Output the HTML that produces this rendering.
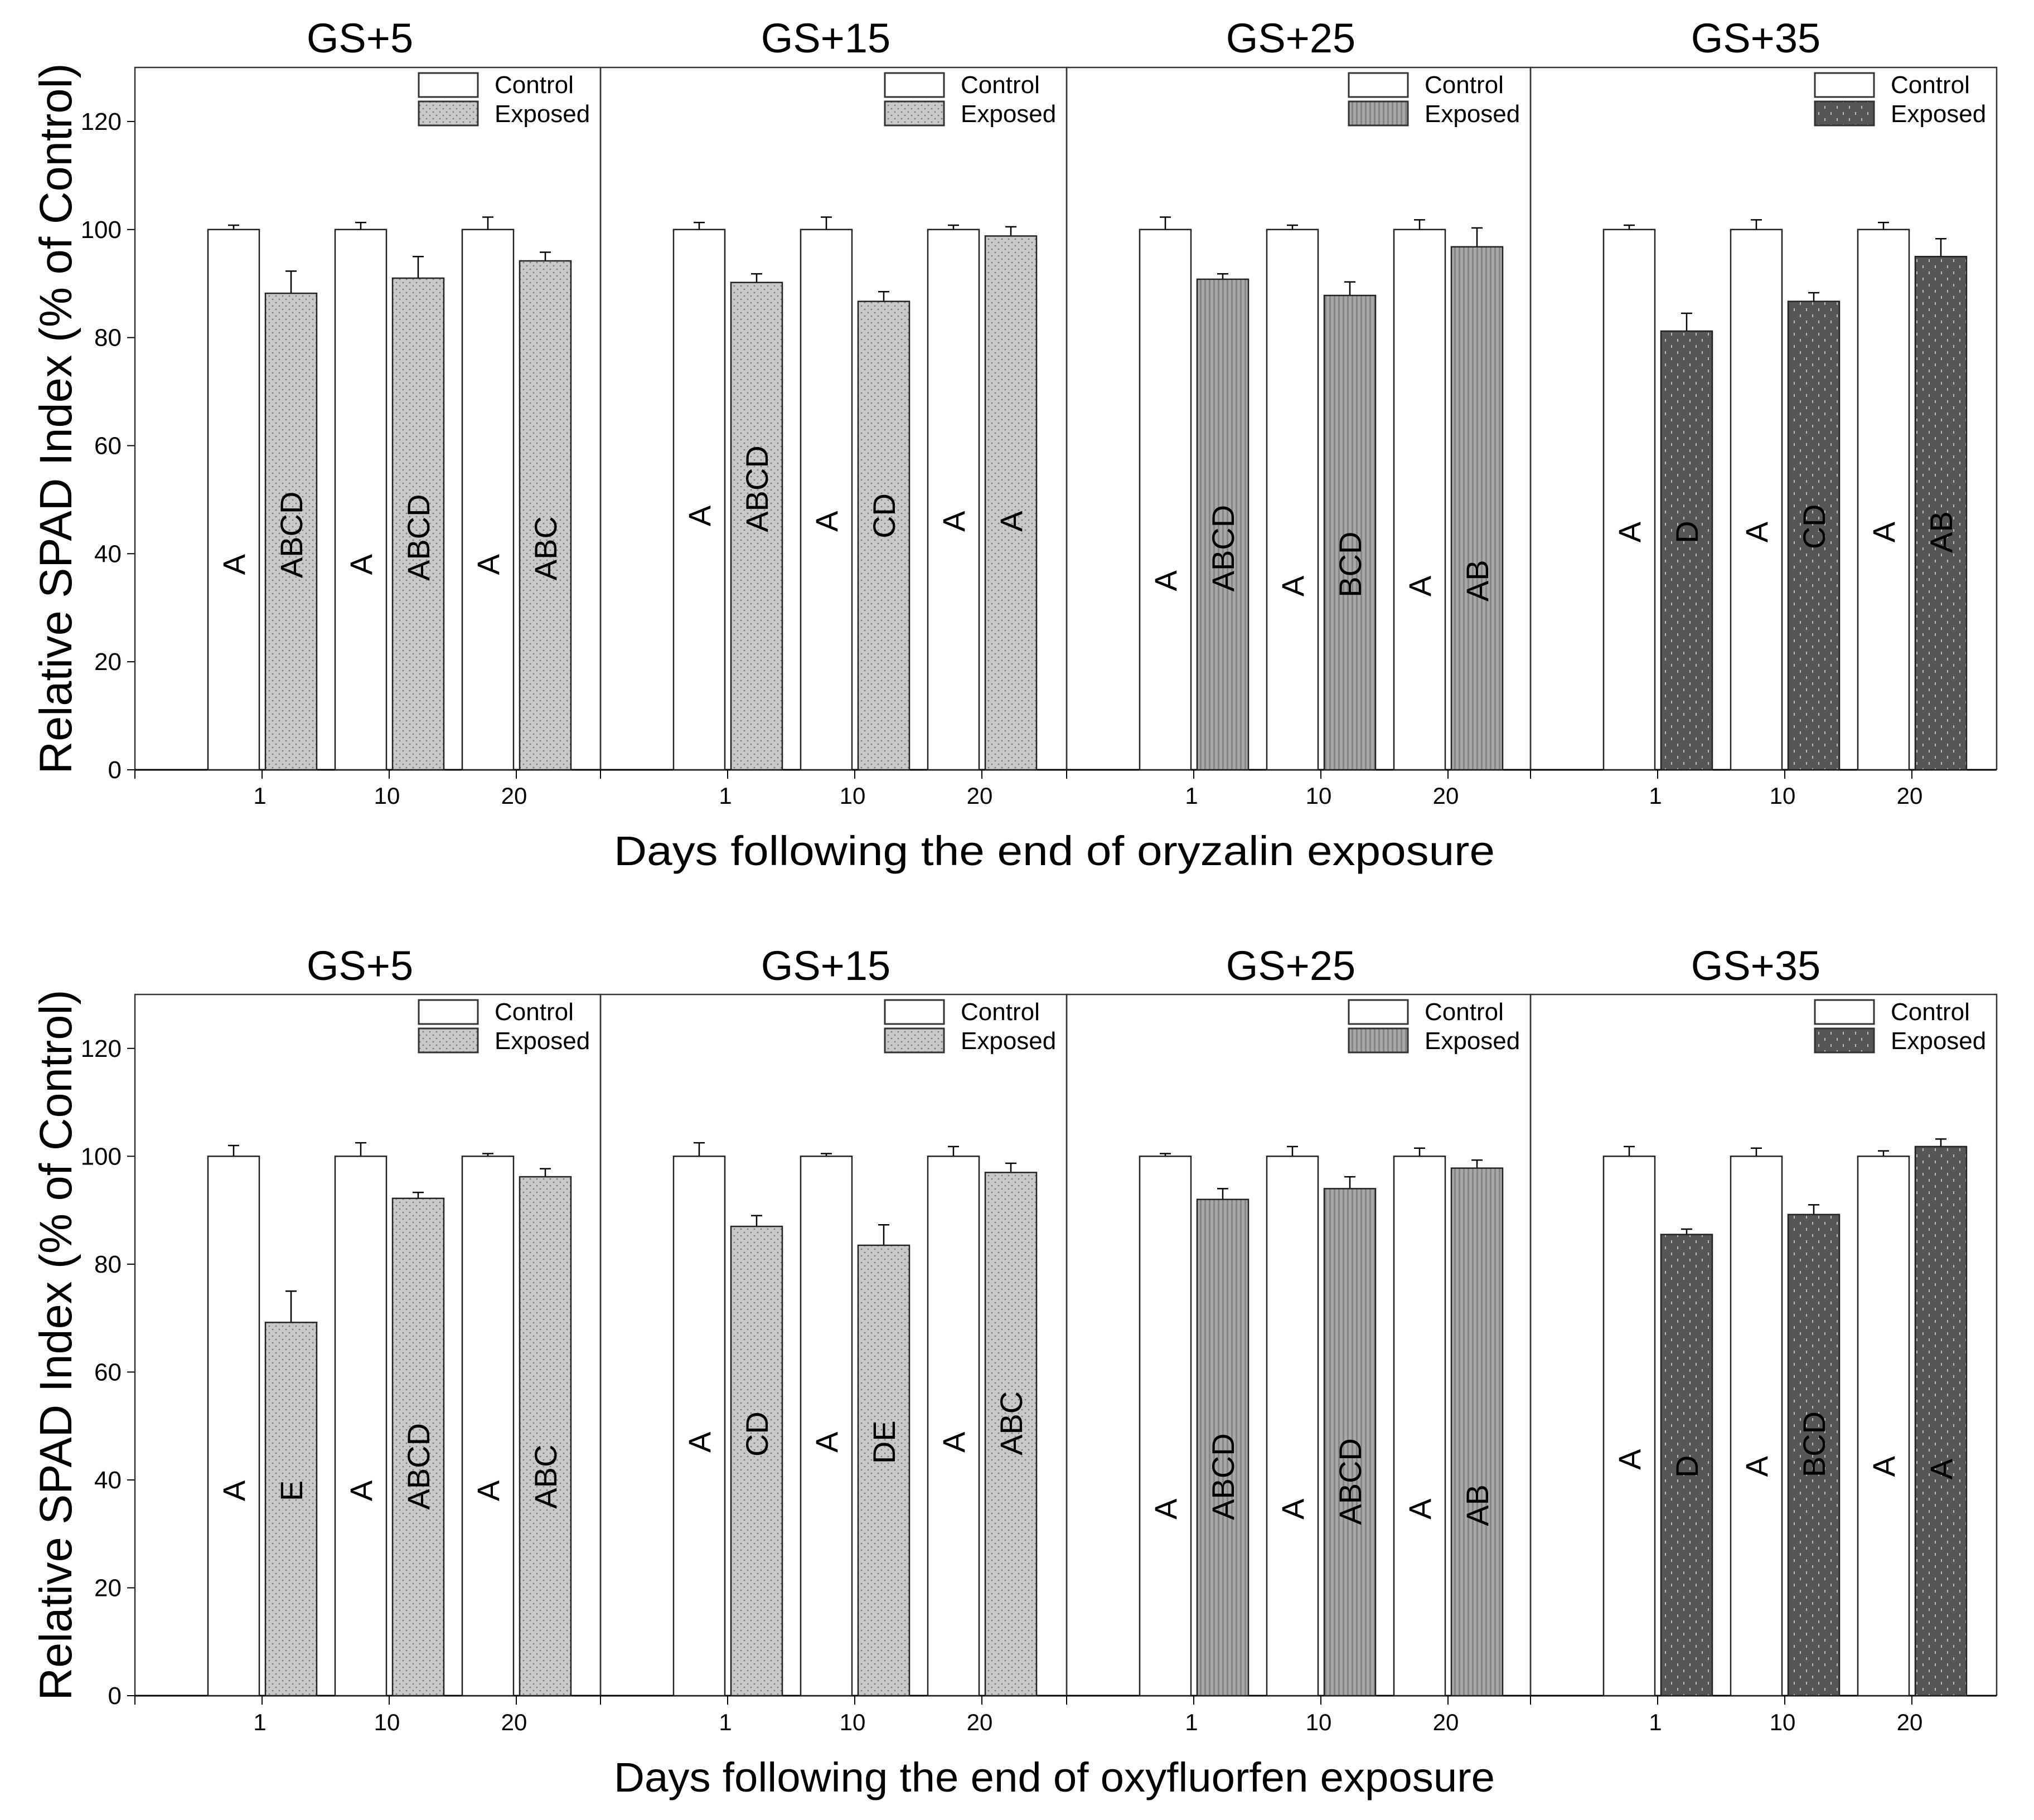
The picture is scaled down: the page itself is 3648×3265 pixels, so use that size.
<!DOCTYPE html>
<html><head><meta charset="utf-8"><style>
html,body{margin:0;padding:0;background:#fff}
svg{display:block}
text{font-family:"Liberation Sans",Arial,sans-serif;fill:#000}
</style></head><body>
<svg id="chart" width="3648" height="3265" viewBox="0 0 3648 3265" xmlns="http://www.w3.org/2000/svg">
<defs>
<pattern id="pLight" width="12" height="12" patternUnits="userSpaceOnUse">
<rect width="12" height="12" fill="#c9c9c9"/><circle cx="3" cy="3" r="1.4" fill="#7a7a7a"/><circle cx="9" cy="9" r="1.4" fill="#7a7a7a"/>
</pattern>
<pattern id="pMed" width="8" height="8" patternUnits="userSpaceOnUse">
<rect width="8" height="8" fill="#a8a8a8"/><rect x="0" width="3" height="8" fill="#858585"/>
</pattern>
<pattern id="pDark" width="22" height="22" patternUnits="userSpaceOnUse">
<rect width="22" height="22" fill="#565656"/><rect x="5" y="3" width="2" height="5" fill="#bdbdbd"/><rect x="16" y="14" width="2" height="5" fill="#bdbdbd"/>
</pattern>
</defs>
<g id="root"></g>
</svg>
<script>
// ---- data ----
const panelTitles = ["GS+5","GS+15","GS+25","GS+35"];
const dayLabels = ["1","10","20"];
const yTicks = [0,20,40,60,80,100,120];
const xTitles = ["Days following the end of oryzalin exposure","Days following the end of oxyfluorfen exposure"];
// top row (oryzalin)
const oryControl = [[100,100,100],[100,100,100],[100,100,100],[100,100,100]];
const oryControlErr = [[0.8,1.3,2.3],[1.3,2.3,0.8],[2.3,0.8,1.8],[0.8,1.8,1.3]];
const oryExposed = [[88.2,91,94.2],[90.2,86.7,98.8],[90.8,87.8,96.8],[81.2,86.7,95]];
const oryExposedErr = [[4.1,4,1.6],[1.6,1.8,1.7],[1,2.5,3.5],[3.3,1.6,3.3]];
const oryCtlLetters = [["A","A","A"],["A","A","A"],["A","A","A"],["A","A","A"]];
const oryExpLetters = [["ABCD","ABCD","ABC"],["ABCD","CD","A"],["ABCD","BCD","AB"],["D","CD","AB"]];
const oryCtlLabelY = [[38,38,38],[47,46,46],[35,34,34],[44,44,44]];
const oryExpLabelY = [[43.5,43,41],[52,47,46],[41,38,35],[44,45,44]];
// bottom row (oxyfluorfen)
const oxyControl = [[100,100,100],[100,100,100],[100,100,100],[100,100,100]];
const oxyControlErr = [[2,2.5,0.5],[2.5,0.5,1.8],[0.5,1.8,1.5],[1.8,1.5,1]];
const oxyExposed = [[69.2,92.2,96.2],[87,83.5,97],[92,94,97.8],[85.5,89.2,101.8]];
const oxyExposedErr = [[5.8,1.1,1.5],[2,3.8,1.7],[2,2.2,1.5],[1,1.8,1.4]];
const oxyCtlLetters = [["A","A","A"],["A","A","A"],["A","A","A"],["A","A","A"]];
const oxyExpLetters = [["E","ABCD","ABC"],["CD","DE","ABC"],["ABCD","ABCD","AB"],["D","BCD","A"]];
const oxyCtlLabelY = [[38,38,38],[47,47,47],[34.6,34.6,34.6],[43.8,42.5,42.5]];
const oxyExpLabelY = [[38,42.5,40.6],[48.5,47,50.5],[40.6,39.7,35.3],[42.5,46.6,42]];

// ---- layout ----
const NS="http://www.w3.org/2000/svg";
const root=document.getElementById('root');
const panelLefts=[242,1077,1913,2745];
const panelRight=3581;
const yMax=130;
const fills=["url(#pLight)","url(#pLight)","url(#pMed)","url(#pDark)"];
function mk(tag,attrs,parent){const e=document.createElementNS(NS,tag);for(const k in attrs)e.setAttribute(k,attrs[k]);(parent||root).appendChild(e);return e;}

function drawRow(r, top, y0, ctl, ctlErr, exp, expErr, ctlLet, expLet, ctlLY, expLY, xTitle, titleY, tickY, xTitleY){
  const yScale=v=>y0-(v/yMax)*(y0-top);
  const g=mk('g',{});
  
  
  yTicks.forEach(t=>{
    const y=yScale(t);
    const tk=mk('line',{x1:panelLefts[0]-14,x2:panelLefts[0],y1:y,y2:y,stroke:'#000','stroke-width':2},g);
    
    
    const tl=mk('text',{x:panelLefts[0]-24,y:y+15,'text-anchor':'end','font-size':44},g);
    tl.textContent=t;
    
    
  });
  const yt=mk('text',{x:0,y:0,'font-size':82,'text-anchor':'middle',transform:`translate(128,${(top+y0)/2}) rotate(-90)`,textLength:1275,lengthAdjust:'spacingAndGlyphs'},g);
  yt.textContent='Relative SPAD Index (% of Control)';
  
  
  const xt=mk('text',{x:1891,y:xTitleY,'font-size':74,'text-anchor':'middle',textLength:1580,lengthAdjust:'spacingAndGlyphs'},g);
  xt.textContent=xTitle;
  
  
  for(let p=0;p<4;p++){
    const L=panelLefts[p], R=(p<3?panelLefts[p+1]:panelRight);
    const pg=mk('g',{},g);
    
    
    const tt=mk('text',{x:(L+R)/2-14,y:titleY,'font-size':74,'text-anchor':'middle'},pg);
    tt.textContent=panelTitles[p];
    
    
    const fr=mk('path',{d:`M${L} ${y0} V${top} H${R} V${y0}`,fill:'none',stroke:'#333','stroke-width':2.5},pg);
    
    
    const xa=mk('line',{x1:L,x2:R,y1:y0,y2:y0,stroke:'#000','stroke-width':3},pg);
    
    
    const ed=mk('line',{x1:L,x2:L,y1:y0,y2:y0+16,stroke:'#000','stroke-width':2},pg);
    
    
    for(let k=0;k<3;k++){
      const cx=L+228*(k+1);
      const tk=mk('line',{x1:cx,x2:cx,y1:y0,y2:y0+16,stroke:'#000','stroke-width':2},pg);
      
      
      const tl=mk('text',{x:cx-4,y:tickY,'font-size':42,'text-anchor':'middle'},pg);
      tl.textContent=dayLabels[k];
      
      
      const bars=[[cx-97,ctl[p][k],ctlErr[p][k],'#fff',ctlLet[p][k],ctlLY[p][k],'control'],[cx+6,exp[p][k],expErr[p][k],fills[p],expLet[p][k],expLY[p][k],'exposed']];
      bars.forEach(b=>{
        const bx=b[0],w=92,yv=yScale(b[1]);
        const er=mk('path',{d:`M${bx+w/2} ${yv} V${yScale(b[1]+b[2])} M${bx+w/2-10} ${yScale(b[1]+b[2])} H${bx+w/2+10}`,stroke:'#000','stroke-width':2.5,fill:'none'},pg);
        
        
        const rc=mk('rect',{x:bx,y:yv,width:w,height:y0-yv,fill:b[3],stroke:'#222','stroke-width':2.5},pg);
        
        
        const lt=mk('text',{x:0,y:0,'font-size':56,'text-anchor':'middle',transform:`translate(${bx+w/2+20},${yScale(b[5])}) rotate(-90)`},pg);
        lt.textContent=b[4];
        
        
      });
    }
    const lg=mk('g',{},pg);
    
    
    const r1=mk('rect',{x:R-326,y:top+10,width:106,height:43,fill:'#fff',stroke:'#333','stroke-width':3},lg);
    
    
    const t1=mk('text',{x:R-190,y:top+46,'font-size':44},lg);
    t1.textContent='Control';
    
    
    const r2=mk('rect',{x:R-326,y:top+61,width:106,height:43,fill:fills[p],stroke:'#333','stroke-width':3},lg);
    
    
    const t2=mk('text',{x:R-190,y:top+98,'font-size':44},lg);
    t2.textContent='Exposed';
    
    
  }
}
drawRow(0,121,1381,oryControl,oryControlErr,oryExposed,oryExposedErr,oryCtlLetters,oryExpLetters,oryCtlLabelY,oryExpLabelY,xTitles[0],94,1442,1552);
drawRow(1,1784,3042,oxyControl,oxyControlErr,oxyExposed,oxyExposedErr,oxyCtlLetters,oxyExpLetters,oxyCtlLabelY,oxyExpLabelY,xTitles[1],1758,3104,3214);
</script>
</body></html>
